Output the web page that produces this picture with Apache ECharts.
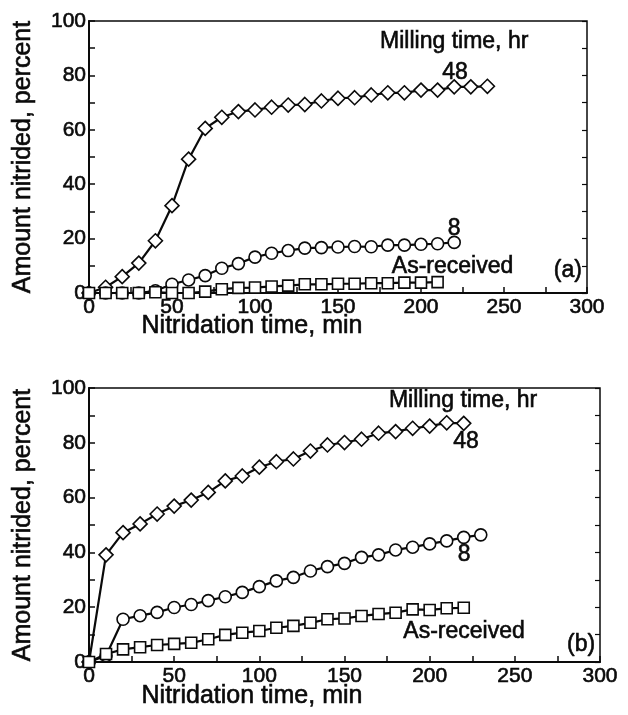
<!DOCTYPE html>
<html>
<head>
<meta charset="utf-8">
<script src="https://cdn.jsdelivr.net/npm/echarts@6/dist/echarts.min.js"></script>
<style>
  html, body { margin: 0; padding: 0; background: #fff; }
  #chart { width: 628px; height: 715px; }
</style>
</head>
<body>
<div id="chart"></div>
<script>
// Nitridation time (min) at which each sample was weighed
const timesA48 = [0, 10, 20, 30, 40, 50, 60, 70, 80, 90, 100, 110, 120, 130, 140, 150, 160, 170, 180, 190, 200, 210, 220, 230, 240];
const timesA8 = [0, 10, 20, 30, 40, 50, 60, 70, 80, 90, 100, 110, 120, 130, 140, 150, 160, 170, 180, 190, 200, 210, 220];
const timesAR = [0, 10, 20, 30, 40, 50, 60, 70, 80, 90, 100, 110, 120, 130, 140, 150, 160, 170, 180, 190, 200, 210];
const timesB48 = [0, 10, 20, 30, 40, 50, 60, 70, 80, 90, 100, 110, 120, 130, 140, 150, 160, 170, 180, 190, 200, 210, 220];
const timesB8 = [0, 10, 20, 30, 40, 50, 60, 70, 80, 90, 100, 110, 120, 130, 140, 150, 160, 170, 180, 190, 200, 210, 220, 230];
const timesBR = [0, 10, 20, 30, 40, 50, 60, 70, 80, 90, 100, 110, 120, 130, 140, 150, 160, 170, 180, 190, 200, 210, 220];

// Panel (a): amount nitrided, percent
const panelA48 = [0, 2.1, 6.0, 11.0, 19.2, 32.1, 49.2, 60.5, 64.6, 66.7, 67.3, 68.3, 69.1, 69.3, 70.6, 71.6, 71.8, 72.8, 73.6, 73.6, 74.6, 74.6, 75.8, 75.8, 76.0];
const panelA8 = [0, 0, 0, 0, 0.8, 3.2, 4.8, 6.4, 9.1, 10.8, 13.2, 14.6, 15.6, 16.5, 16.7, 16.9, 17.1, 17.0, 17.6, 17.6, 17.9, 18.1, 18.6];
const panelAR = [0, 0, 0, 0, 0.3, 0, 0, 0.5, 1.4, 1.9, 2.0, 2.4, 2.7, 3.2, 3.2, 3.4, 3.4, 3.6, 3.6, 3.8, 3.8, 4.0];

// Panel (b): amount nitrided, percent
const panelB48 = [0, 39.1, 47.2, 50.4, 54.0, 56.9, 59.1, 61.9, 66.1, 67.9, 71.1, 73.1, 74.1, 77.0, 79.2, 80.1, 81.3, 83.5, 84.1, 85.3, 86.1, 87.3, 87.1];
const panelB8 = [0, 2.3, 15.6, 16.9, 18.1, 19.9, 21.0, 22.4, 23.8, 25.4, 27.5, 29.6, 30.9, 33.2, 34.8, 36.0, 38.2, 39.1, 40.9, 41.9, 43.1, 44.2, 45.5, 46.4];
const panelBR = [0, 2.9, 4.6, 5.4, 6.2, 6.6, 7.0, 8.3, 9.9, 10.7, 11.3, 12.5, 13.2, 14.3, 15.6, 15.9, 16.8, 17.5, 18.0, 19.2, 19.0, 19.6, 19.8];

// Text placed inside each panel, in data coordinates [time, percent]
const notesA = [
  { text: 'Milling time, hr', at: [220, 92.5] },
  { text: '48', at: [220.5, 81] },
  { text: '8', at: [220, 23.5] },
  { text: 'As-received', at: [219, 9.6] },
  { text: '(a)', at: [288.5, 8.2] }
];
const notesB = [
  { text: 'Milling time, hr', at: [219.6, 95.5] },
  { text: '48', at: [221.4, 80.3] },
  { text: '8', at: [220.2, 39.1] },
  { text: 'As-received', at: [220.2, 10.9] },
  { text: '(b)', at: [288.9, 6.4] }
];

const FONT = '"Liberation Sans", Arial, Helvetica, sans-serif';
const INK = '#0a0a0a';

const zip = (xs, ys) => xs.map((x, i) => [x, ys[i]]);

const tickLabel = {
  color: INK, fontFamily: FONT, fontSize: 21,
  textBorderColor: INK, textBorderWidth: 0.6
};

function xAxisFor(gridIndex) {
  return {
    gridIndex, type: 'value', min: 0, max: 300, interval: 50,
    axisLine: { show: true, lineStyle: { color: INK, width: 2 } },
    axisTick: { show: true, inside: true, length: 6, lineStyle: { color: INK, width: 1.5 } },
    minorTick: { show: true, splitNumber: 2, length: 6, lineStyle: { color: INK, width: 1.5 } },
    axisLabel: Object.assign({ margin: 4 }, tickLabel),
    splitLine: { show: false }
  };
}
function yAxisFor(gridIndex) {
  return {
    gridIndex, type: 'value', min: 0, max: 100, interval: 20,
    axisLine: { show: true, lineStyle: { color: INK, width: 2 } },
    axisTick: { show: true, inside: true, length: 6, lineStyle: { color: INK, width: 1.5 } },
    minorTick: { show: true, splitNumber: 2, length: 6, lineStyle: { color: INK, width: 1.5 } },
    axisLabel: Object.assign({ margin: 3 }, tickLabel),
    splitLine: { show: false }
  };
}
function rightAxisFor(gridIndex) {
  return {
    gridIndex, type: 'value', min: 0, max: 100, interval: 20, position: 'right',
    axisLine: { show: false },
    axisTick: { show: true, inside: true, length: 5, lineStyle: { color: INK, width: 1.2 } },
    minorTick: { show: true, splitNumber: 2, length: 5, lineStyle: { color: INK, width: 1.2 } },
    axisLabel: { show: false },
    splitLine: { show: false }
  };
}

function curve(name, xIdx, yIdx, pts, symbol, size) {
  return {
    name, type: 'line', xAxisIndex: xIdx, yAxisIndex: yIdx,
    data: pts, symbol, symbolSize: size, showSymbol: true,
    clip: false, animation: false,
    lineStyle: { color: INK, width: 2.2 },
    itemStyle: { color: '#fff', borderColor: INK, borderWidth: 1.6 },
    z: 3
  };
}

const chart = echarts.init(document.getElementById('chart'), null, { renderer: 'canvas' });

chart.setOption({
  backgroundColor: '#fff',
  animation: false,
  grid: [
    { left: 89, top: 21, width: 498, height: 272, show: true, borderColor: INK, borderWidth: 1.5, backgroundColor: 'transparent' },
    { left: 89, top: 388, width: 511, height: 274, show: true, borderColor: INK, borderWidth: 1.5, backgroundColor: 'transparent' }
  ],
  xAxis: [xAxisFor(0), xAxisFor(1)],
  yAxis: [yAxisFor(0), yAxisFor(1), rightAxisFor(0), rightAxisFor(1)],
  series: [
    curve('48 hr (a)', 0, 0, zip(timesA48, panelA48), 'diamond', 14),
    curve('8 hr (a)', 0, 0, zip(timesA8, panelA8), 'circle', 12),
    curve('As-received (a)', 0, 0, zip(timesAR, panelAR), 'rect', 11),
    curve('48 hr (b)', 1, 1, zip(timesB48, panelB48), 'diamond', 14),
    curve('8 hr (b)', 1, 1, zip(timesB8, panelB8), 'circle', 12),
    curve('As-received (b)', 1, 1, zip(timesBR, panelBR), 'rect', 11)
  ]
});

// Shared look for the free-standing texts
function textStyle(text, size, extra) {
  return Object.assign({
    text, fill: INK, font: size + 'px ' + FONT, stroke: INK, lineWidth: 0.6,
    textAlign: 'center', textVerticalAlign: 'middle'
  }, extra || {});
}

// Axis titles and in-panel notes
function noteGraphics(notes, axisIdx) {
  return notes.map(n => {
    const p = chart.convertToPixel({ xAxisIndex: axisIdx, yAxisIndex: axisIdx }, n.at);
    return { type: 'text', x: p[0], y: p[1], z: 10, style: textStyle(n.text, 23) };
  });
}
function titleGraphics(gridTop, gridH, xTitleY) {
  return [
    { type: 'text', x: 252, y: xTitleY, z: 10, style: textStyle('Nitridation time, min', 25) },
    { type: 'text', x: 23, y: gridTop + gridH / 2, rotation: Math.PI / 2, z: 10,
      style: textStyle('Amount nitrided, percent', 25) }
  ];
}

chart.setOption({
  graphic: [
    ...noteGraphics(notesA, 0),
    ...noteGraphics(notesB, 1),
    ...titleGraphics(21, 272, 326),
    ...titleGraphics(388, 274, 696)
  ]
});
</script>
</body>
</html>
